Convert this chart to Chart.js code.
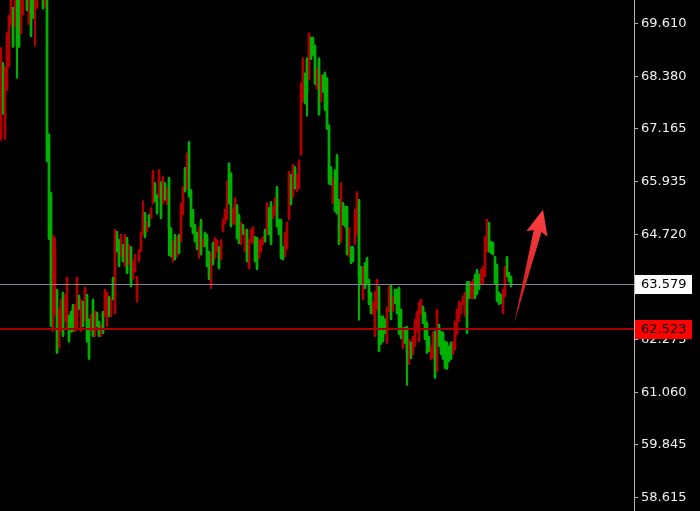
<!DOCTYPE html>
<html>
<head>
<meta charset="utf-8">
<script src="https://cdn.jsdelivr.net/npm/chart.js@4.4.1/dist/chart.umd.min.js"></script>
<style>
  html, body { margin: 0; padding: 0; background: #000; }
  #wrap { width: 700px; height: 511px; }
</style>
</head>
<body>
<div id="wrap"><canvas id="priceChart" width="700" height="511"></canvas></div>
<script>
// candle data, left to right
const open = [
  66.95,68.64,66.95,68.09,68.62,69.59,69.93,69.54,70.12,70.23,
  69.38,69.82,70.23,70.35,69.61,70.23,70.35,69.93,69.98,71.04,
  70.30,70.58,70.00,70.12,67.02,65.66,62.50,63.19,63.42,62.10,
  62.50,63.35,62.73,62.56,62.82,62.91,63.07,62.50,62.91,63.28,
  62.50,63.14,62.73,63.30,62.73,62.50,63.19,62.38,62.89,62.68,
  62.38,62.91,62.84,62.61,63.26,62.84,63.70,62.91,64.76,64.57,
  64.23,64.46,64.00,64.62,64.04,64.41,63.70,63.88,63.19,64.11,
  64.34,64.74,65.20,64.81,65.15,65.11,65.45,65.89,65.61,65.57,
  65.91,65.45,65.89,65.43,66.01,64.85,64.11,64.69,64.23,64.69,
  64.57,65.20,66.24,65.78,66.84,65.73,65.27,64.92,64.74,64.57,
  65.04,64.46,64.74,64.69,64.30,63.49,64.51,64.18,64.34,64.41,
  64.16,64.81,64.99,65.08,66.35,66.12,64.99,64.97,65.38,65.15,
  64.51,64.92,64.34,64.81,63.95,64.57,64.53,64.64,64.62,64.18,
  64.34,64.51,64.81,64.74,65.31,65.45,65.11,65.20,65.80,65.04,
  65.04,64.41,64.23,64.41,65.08,66.08,65.61,66.26,65.73,65.80,
  66.58,67.81,68.43,68.78,68.32,69.26,69.26,69.08,68.11,68.78,
  67.81,68.39,68.45,68.32,67.23,66.26,65.45,66.19,66.54,65.50,
  64.57,65.43,65.34,65.34,64.23,64.41,64.41,64.51,64.74,65.50,
  63.95,63.23,64.04,64.16,63.65,63.35,62.89,62.38,63.00,63.49,
  62.80,62.80,62.73,62.22,62.96,63.51,62.96,63.42,63.42,63.47,
  62.96,62.10,62.54,62.56,61.73,62.20,61.96,62.15,62.50,62.26,
  62.89,63.03,62.89,62.66,62.33,61.85,61.87,62.45,61.57,62.61,
  62.45,62.43,62.22,62.20,62.10,62.20,61.96,62.08,62.43,62.73,
  62.91,63.12,62.84,63.60,63.60,63.26,63.26,63.77,63.88,63.77,
  63.58,63.60,63.77,64.34,64.97,64.53,64.51,64.18,64.00,63.35,
  63.30,62.91,63.30,64.18,63.81,63.72
];
const high = [
  69.05,68.70,68.60,69.40,69.80,70.30,69.98,70.35,70.20,70.28,
  70.34,70.50,70.85,70.40,70.45,70.26,70.40,70.50,70.62,71.08,
  70.97,70.62,70.50,70.35,67.05,65.70,64.70,64.64,63.45,63.00,
  63.22,63.38,63.33,63.73,62.85,62.94,63.10,63.10,63.73,63.31,
  63.22,63.17,63.50,63.33,62.76,62.87,63.22,62.94,62.92,62.71,
  62.64,62.94,63.45,63.38,63.29,63.26,63.73,64.84,64.79,64.60,
  64.72,64.49,64.72,64.65,64.49,64.44,64.10,64.26,63.75,64.37,
  64.77,65.50,65.23,65.02,65.18,65.34,66.20,65.92,65.64,66.22,
  65.94,66.06,65.92,65.81,66.04,64.88,64.56,64.72,64.67,64.72,
  65.44,65.83,66.27,66.61,66.87,65.76,65.30,64.95,64.77,64.90,
  65.07,64.62,64.77,64.72,64.33,64.30,64.54,64.65,64.60,64.44,
  64.60,65.07,65.30,65.96,66.38,66.15,65.34,65.57,65.41,65.18,
  65.00,64.95,64.84,64.84,64.60,64.84,64.90,64.67,64.65,64.60,
  64.60,64.67,64.84,65.46,65.34,65.48,65.37,65.57,65.83,65.07,
  65.07,64.44,64.77,65.00,66.18,66.11,66.34,66.29,66.11,66.45,
  68.23,68.81,68.46,68.81,69.39,69.29,69.29,69.11,68.58,68.81,
  68.42,68.42,68.48,68.35,67.26,66.29,66.04,66.22,66.57,65.53,
  65.92,65.46,65.37,65.37,64.88,64.44,64.44,65.30,65.71,65.53,
  63.98,63.98,64.07,64.19,63.68,63.38,63.15,63.40,63.68,63.52,
  62.83,62.83,62.76,63.03,63.52,63.54,63.29,63.45,63.45,63.50,
  62.99,62.57,62.57,62.59,62.29,62.23,62.36,62.76,62.94,63.15,
  63.22,63.06,62.92,62.69,62.36,62.13,62.46,62.48,62.99,62.64,
  62.48,62.46,62.25,62.23,62.13,62.23,62.23,62.71,62.99,63.17,
  63.15,63.29,63.38,63.63,63.63,63.61,63.68,63.80,63.91,63.80,
  63.91,63.98,64.67,65.07,65.00,64.56,64.54,64.21,64.03,63.38,
  63.33,63.45,63.98,64.21,63.84,63.75
];
const low = [
  66.90,67.50,66.92,68.05,68.60,69.57,69.05,69.52,68.34,69.05,
  69.36,69.80,70.20,69.90,69.58,69.30,69.72,69.08,69.96,70.30,
  70.27,69.94,69.98,66.40,64.60,62.58,62.47,62.84,61.96,62.08,
  62.47,62.35,62.70,62.54,62.22,62.45,62.47,62.47,62.50,62.98,
  62.47,62.58,62.70,62.22,61.82,62.47,62.35,62.35,62.58,62.35,
  62.35,62.42,62.81,62.58,62.81,62.81,63.20,62.88,64.31,63.97,
  64.20,64.08,63.97,63.81,64.01,63.50,63.67,63.85,63.15,64.08,
  64.31,64.71,64.64,64.78,64.89,65.08,65.42,65.47,65.19,65.54,
  65.08,65.42,65.51,65.40,64.23,64.20,64.08,64.13,64.20,64.27,
  64.54,65.17,65.70,65.75,65.58,64.89,64.73,64.54,64.36,64.16,
  64.24,64.43,64.43,63.97,63.67,63.46,64.01,64.15,64.31,63.92,
  64.13,64.78,64.96,65.05,65.42,64.89,64.96,64.94,64.61,64.50,
  64.48,64.71,64.31,64.08,63.92,64.54,64.50,64.08,63.90,64.15,
  64.31,64.48,64.54,64.71,64.71,64.48,65.08,65.17,64.89,64.71,
  64.15,64.13,64.20,64.38,65.05,65.40,65.58,65.77,65.70,65.77,
  66.55,67.78,67.74,67.46,68.29,68.77,68.86,68.19,68.08,67.48,
  67.78,68.01,67.59,67.15,65.88,65.86,65.42,65.24,65.19,64.48,
  64.54,64.94,64.89,64.24,64.20,64.04,64.08,64.48,64.71,62.73,
  63.55,63.20,63.46,63.55,63.09,62.88,62.86,62.35,62.97,62.00,
  62.17,62.23,62.42,62.19,62.93,62.74,62.93,63.11,62.88,62.40,
  62.30,62.07,62.19,61.22,61.70,61.84,61.93,62.12,62.47,62.23,
  62.86,62.65,62.28,61.96,62.00,61.82,61.84,61.38,61.54,62.12,
  61.93,61.82,61.61,61.59,61.77,61.82,61.93,62.05,62.40,62.70,
  62.88,63.09,62.81,62.42,63.23,63.23,63.23,63.23,63.32,63.44,
  63.55,63.57,63.74,64.31,64.31,64.27,64.24,63.57,63.16,63.09,
  63.11,62.88,63.27,63.74,63.62,63.50
];
const close = [
  69.01,67.55,68.57,69.36,69.77,70.23,69.08,70.30,69.08,69.08,
  70.30,70.46,70.81,69.93,70.40,69.33,69.75,70.46,70.58,70.35,
  70.93,69.96,70.46,66.42,64.64,62.61,64.67,64.34,61.99,62.96,
  63.19,62.38,63.30,63.70,62.26,62.48,62.50,63.07,63.70,63.00,
  63.19,62.61,63.47,62.26,61.85,62.84,62.38,62.91,62.61,62.38,
  62.61,62.45,63.42,63.35,62.84,63.23,63.23,64.81,64.34,64.00,
  64.69,64.11,64.69,63.84,64.46,63.53,64.07,64.23,63.72,64.34,
  64.74,65.22,64.67,64.99,64.92,65.31,66.17,65.50,65.22,66.19,
  65.11,66.03,65.54,65.78,64.85,64.23,64.53,64.16,64.64,64.30,
  65.41,65.80,65.73,66.58,65.61,64.92,64.76,64.57,64.39,64.87,
  64.27,64.57,64.46,64.00,63.70,64.27,64.04,64.62,64.57,63.95,
  64.57,65.04,65.27,65.45,65.45,64.92,65.31,65.54,64.64,64.53,
  64.97,64.74,64.81,64.11,64.57,64.81,64.87,64.11,63.93,64.57,
  64.57,64.64,64.57,65.43,64.74,64.51,65.34,65.54,64.92,64.74,
  64.18,64.16,64.74,64.97,66.15,65.43,66.31,65.80,66.08,66.42,
  68.20,68.78,68.04,68.04,69.36,68.80,68.89,68.22,68.55,67.51,
  68.39,68.04,67.62,67.18,65.91,65.89,66.01,65.27,65.22,64.51,
  65.89,64.97,64.92,64.27,64.85,64.07,64.11,65.27,65.68,63.72,
  63.58,63.95,63.49,63.58,63.12,62.91,63.12,63.37,63.65,62.03,
  62.20,62.26,62.45,63.00,63.49,62.77,63.26,63.14,62.91,62.43,
  62.33,62.54,62.22,61.99,62.26,61.87,62.33,62.73,62.91,63.12,
  63.19,62.68,62.31,61.99,62.03,62.10,62.43,61.41,62.96,62.15,
  61.96,61.85,61.64,61.62,61.80,61.85,62.20,62.68,62.96,63.14,
  63.12,63.26,63.35,62.45,63.26,63.58,63.65,63.26,63.35,63.47,
  63.88,63.95,64.64,65.04,64.34,64.30,64.27,63.60,63.19,63.12,
  63.14,63.42,63.95,63.77,63.65,63.53
];

// price axis
const yTicks = [69.610, 68.380, 67.165, 65.935, 64.720, 63.490, 62.275, 61.060, 59.845, 58.615];
const yMin = 58.31, yMax = 70.15;

// horizontal price lines
const priceLines = [63.579, 62.523];
const lineColors = ['#7d8996', '#a80000'];
const boxColors = ['#ffffff', '#ff0000'];

// arrow annotation: [bar index, price]
const arrowFrom = [256.5, 62.64];
const arrowTo = [271, 65.29];

const totalSlots = 317;
const upColor = '#b00000';
const downColor = '#00b000';
const FONT = { family: 'DejaVu Sans', size: 13 };

const labels = Array.from({ length: totalSlots }, (_, i) => i);
const colors = open.map((o, i) => close[i] >= o ? upColor : downColor);
const wicks = open.map((o, i) => [low[i], high[i]]);
const bodies = open.map((o, i) => [Math.min(o, close[i]), Math.max(o, close[i])]);

const background = {
    id: 'background',
    beforeDraw(chart) {
        const ctx = chart.ctx;
        ctx.save();
        ctx.fillStyle = '#000';
        ctx.fillRect(0, 0, chart.width, chart.height);
        ctx.restore();
    }
};

const overlays = {
    id: 'overlays',
    afterDatasetsDraw(chart) {
        const ctx = chart.ctx, area = chart.chartArea, ys = chart.scales.y;
        ctx.save();
        priceLines.forEach((p, i) => {
            const y = Math.round(ys.getPixelForValue(p));
            ctx.strokeStyle = lineColors[i];
            ctx.lineWidth = i === 1 ? 2 : 1;
            ctx.beginPath();
            ctx.moveTo(area.left, y + (i === 1 ? 0 : 0.5));
            ctx.lineTo(area.right, y + (i === 1 ? 0 : 0.5));
            ctx.stroke();
        });

        // arrow
        const xs = chart.scales.x;
        const x0 = xs.getPixelForValue(arrowFrom[0]), y0 = ys.getPixelForValue(arrowFrom[1]);
        const x1 = xs.getPixelForValue(arrowTo[0]), y1 = ys.getPixelForValue(arrowTo[1]);
        const len = Math.hypot(x1 - x0, y1 - y0);
        const ux = (x1 - x0) / len, uy = (y1 - y0) / len;
        const nx = -uy, ny = ux;
        const headLen = 22, headHalf = 11, shaftHalf = 4;
        const bx = x1 - ux * headLen, by = y1 - uy * headLen;
        const grad = ctx.createLinearGradient(x0, y0, x1, y1);
        grad.addColorStop(0, '#b81818');
        grad.addColorStop(1, '#ff4040');
        ctx.fillStyle = grad;
        ctx.beginPath();
        ctx.moveTo(x0, y0);
        ctx.lineTo(bx + nx * shaftHalf, by + ny * shaftHalf);
        ctx.lineTo(bx + nx * headHalf - ux * 3, by + ny * headHalf - uy * 3);
        ctx.lineTo(x1, y1);
        ctx.lineTo(bx - nx * headHalf - ux * 3, by - ny * headHalf - uy * 3);
        ctx.lineTo(bx - nx * shaftHalf, by - ny * shaftHalf);
        ctx.closePath();
        ctx.fill();
        ctx.restore();
    },
    afterDraw(chart) {
        const ctx = chart.ctx, area = chart.chartArea, ys = chart.scales.y;
        ctx.save();
        ctx.font = FONT.size + 'px ' + FONT.family;
        ctx.textBaseline = 'middle';
        priceLines.forEach((p, i) => {
            const y = Math.round(ys.getPixelForValue(p));
            ctx.fillStyle = boxColors[i];
            ctx.fillRect(area.right + 1, y - 9, 57, 19);
            ctx.fillStyle = '#000';
            ctx.fillText(p.toFixed(3), area.right + 7, y + 1);
        });
        ctx.restore();
    }
};

new Chart(document.getElementById('priceChart'), {
    type: 'bar',
    data: {
        labels: labels,
        datasets: [
            {
                data: wicks,
                backgroundColor: colors,
                barThickness: 1.5,
                grouped: false,
                borderWidth: 0
            },
            {
                data: bodies,
                backgroundColor: colors,
                barThickness: 2,
                grouped: false,
                borderWidth: 0
            }
        ]
    },
    options: {
        responsive: false,
        animation: false,
        events: [],
        layout: { padding: 0 },
        plugins: { legend: { display: false }, tooltip: { enabled: false } },
        scales: {
            x: { display: false, offset: true },
            y: {
                position: 'right',
                min: yMin,
                max: yMax,
                afterFit(scale) {
                    scale.width = 66;
                    scale.paddingTop = 0;
                    scale.paddingBottom = 0;
                },
                afterBuildTicks(scale) { scale.ticks = yTicks.map(v => ({ value: v })); },
                border: { display: true, color: '#b4b4b4', width: 1 },
                grid: { drawOnChartArea: false, drawTicks: true, tickLength: 4, color: '#b4b4b4' },
                ticks: {
                    color: '#f0f0f0',
                    font: FONT,
                    padding: 3,
                    autoSkip: false,
                    callback: v => v.toFixed(3)
                }
            }
        }
    },
    plugins: [background, overlays]
});
</script>
</body>
</html>
